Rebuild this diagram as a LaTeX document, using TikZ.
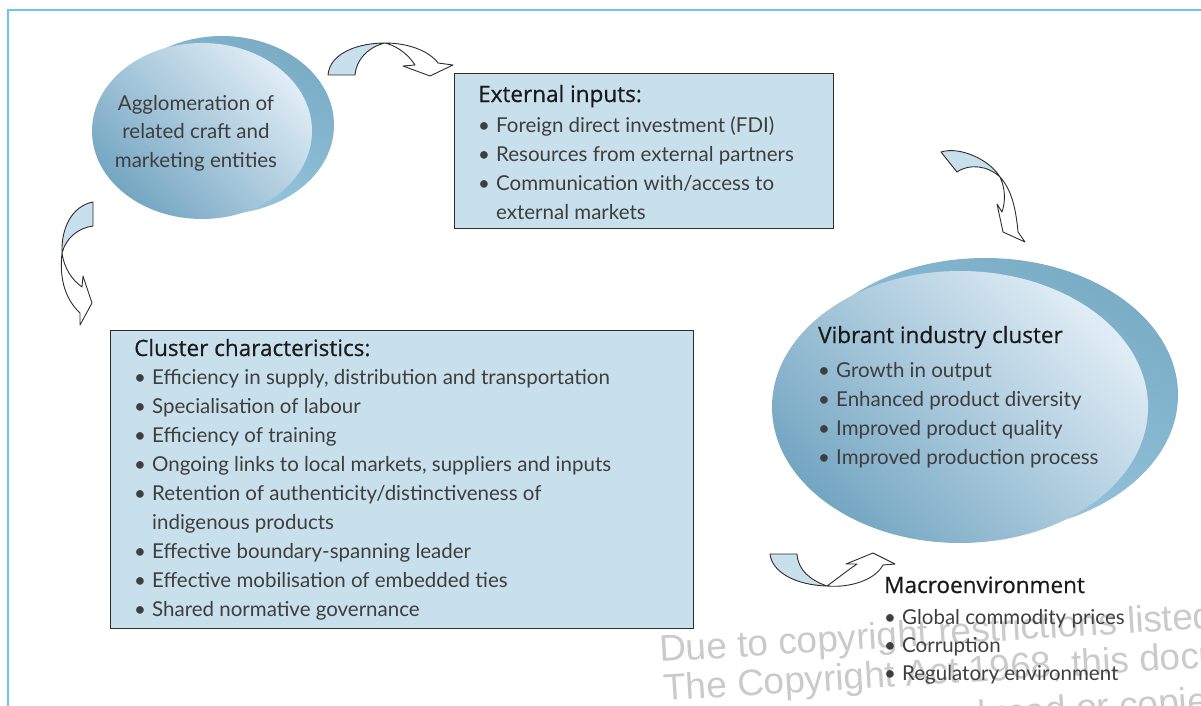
\documentclass[tikz,border=0pt]{standalone}
\usepackage{fontspec}
\setmainfont{Lato}
\newfontfamily\headfont[FakeBold=0.6]{Open Sans}
\newfontfamily\markfont{Liberation Sans}
\usetikzlibrary{shapes.geometric}

\definecolor{framecyan}{RGB}{105,200,235}
\definecolor{boxblue}{RGB}{200,224,236}
\definecolor{shadedark}{RGB}{116,166,194}
\definecolor{shadelight}{RGB}{224,237,246}
\definecolor{backtop}{RGB}{122,172,198}
\definecolor{backbottom}{RGB}{156,204,226}
\definecolor{textgray}{RGB}{62,62,62}
\definecolor{headgray}{RGB}{26,26,26}
\definecolor{edgegray}{RGB}{45,45,45}
\definecolor{markgray}{RGB}{202,202,202}

% bullet and hanging indent for the lists
\newcommand{\bitem}{\makebox[18pt][l]{\textbullet}}
\newcommand{\bskip}{\hspace*{18pt}}
\newcommand{\heading}[1]{{\headfont\fontsize{22.5}{29}\selectfont\color{headgray}#1}}

\begin{document}
\begin{tikzpicture}[
        x=1pt, y=-1pt,
        font=\fontsize{20.5}{29}\selectfont,
        % Define Styles (text nodes sit on the baseline of their last line)
        listbox/.style={rectangle, draw=edgegray, fill=boxblue, line width=1.4pt, anchor=north west, inner sep=0pt},
        listtext/.style={anchor=base west, align=left, inner sep=0pt, text=textgray},
        backdisc/.style={ellipse, inner sep=0pt, top color=backtop, bottom color=backbottom, shading angle=-30},
        frontdisc/.style={ellipse, inner sep=0pt, top color=shadelight, bottom color=shadedark, shading angle=-45},
        bandfill/.style={fill=boxblue, draw=edgegray, line width=0.9pt, line join=round},
        bandhead/.style={fill=white, draw=edgegray, line width=0.9pt, line join=round},
        marktext/.style={anchor=base west, inner sep=0pt, rotate=3.5, text=markgray, font=\markfont\fontsize{37}{37}\selectfont}
    ]

    \useasboundingbox (0,0) rectangle (1201,706);

    % --- WATERMARK (behind everything) ---
    \begin{scope}
        \clip (0,0) rectangle (1201,706);
        \node[marktext] (mark1) at (660,662) {Due to copyright restrictions listed};
        \node[marktext] (mark2) at (664,701) {The Copyright Act 1968, this document};
        \node[marktext] (mark3) at (880,733) {reproduced or copied};
    \end{scope}

    % --- FRAME ---
    \draw[framecyan, line width=2.5pt] (1201,10) -- (8,10) -- (8,706);

    % --- AGGLOMERATION (top left ellipse) ---
    \node[backdisc, minimum width=224pt, minimum height=178pt] (agglo-back) at (222,125) {};
    \node[frontdisc, minimum width=220pt, minimum height=176pt] (agglo) at (202,131) {};
    \node[anchor=base, align=center, inner sep=0pt, text=textgray, font=\fontsize{20.5}{28.5}\selectfont] (agglo-text) at (196,167)
        {Agglomeration of\\ related craft and\\ marketing entities};

    % --- EXTERNAL INPUTS ---
    \node[listbox, minimum width=379pt, minimum height=155pt] (inputs) at (454,73) {};
    \node[listtext] (inputs-text) at (478,219) {\heading{External inputs:}\\[1pt]
        \bitem Foreign direct investment (FDI)\\
        \bitem Resources from external partners\\
        \bitem Communication with/access to\\
        \bskip external markets};

    % --- CLUSTER CHARACTERISTICS ---
    \node[listbox, minimum width=583pt, minimum height=298pt] (cluster) at (110,330) {};
    \node[listtext] (cluster-text) at (134,616) {\heading{Cluster characteristics:}\\[-1pt]
        \bitem Efficiency in supply, distribution and transportation\\
        \bitem Specialisation of labour\\
        \bitem Efficiency of training\\
        \bitem Ongoing links to local markets, suppliers and inputs\\
        \bitem Retention of authenticity/distinctiveness of\\
        \bskip indigenous products\\
        \bitem Effective boundary-spanning leader\\
        \bitem Effective mobilisation of embedded ties\\
        \bitem Shared normative governance};

    % --- VIBRANT CLUSTER (right ellipse) ---
    \node[backdisc, minimum width=386pt, minimum height=274pt] (vibrant-back) at (985,395) {};
    \node[frontdisc, minimum width=376pt, minimum height=272pt] (vibrant) at (960,407) {};
    \node[listtext] (vibrant-text) at (818,464) {\heading{Vibrant industry cluster}\\[5pt]
        \bitem Growth in output\\
        \bitem Enhanced product diversity\\
        \bitem Improved product quality\\
        \bitem Improved production process};

    % --- MACROENVIRONMENT ---
    \node[listtext] (macro-text) at (884,680) {\heading{Macroenvironment}\\[2pt]
        \bitem Global commodity prices\\[-1pt]
        \bitem Corruption\\[-1pt]
        \bitem Regulatory environment};

    % --- CURVED BLOCK ARROWS ---
    % agglomeration -> external inputs
    \draw[bandfill] (328,75) .. controls (330,52) and (360,43) .. (385,43)
        .. controls (368,47) and (356,60) .. (355,75) -- cycle;
    \draw[bandhead] (385,43) .. controls (410,43) and (430,52) .. (438,63) -- (453,65) -- (430,76) -- (403,66) -- (415,65)
        .. controls (408,54) and (397,46) .. (385,43);

    % external inputs -> vibrant cluster
    \draw[bandfill] (941,152) .. controls (960,146) and (990,160) .. (1000,177)
        .. controls (988,166) and (970,163) .. (957,172) -- cycle;
    \draw[bandhead] (1000,177) .. controls (1005,188) and (1006,200) .. (1002,212) -- (997,204) -- (1003,232) -- (1025,242) -- (1018,232)
        .. controls (1016,210) and (1012,190) .. (1000,177);

    % vibrant cluster -> macroenvironment
    \draw[bandfill] (770,554) .. controls (772,572) and (795,585) .. (827,586)
        .. controls (810,580) and (798,570) .. (797,554) -- cycle;
    \draw[bandhead] (827,586) .. controls (838,578) and (848,570) .. (857,564) -- (846,564) -- (873,553) -- (895,564) -- (883,565)
        .. controls (875,580) and (850,588) .. (827,586);

    % agglomeration -> cluster characteristics
    \draw[bandfill] (93,202) .. controls (72,206) and (61,228) .. (62,253)
        .. controls (66,238) and (78,228) .. (93,226) -- cycle;
    \draw[bandhead] (62,253) .. controls (64,268) and (72,280) .. (82,287) -- (83,276) -- (92,303) -- (80,325) -- (80,313)
        .. controls (66,300) and (59,280) .. (62,253);

\end{tikzpicture}
\end{document}
